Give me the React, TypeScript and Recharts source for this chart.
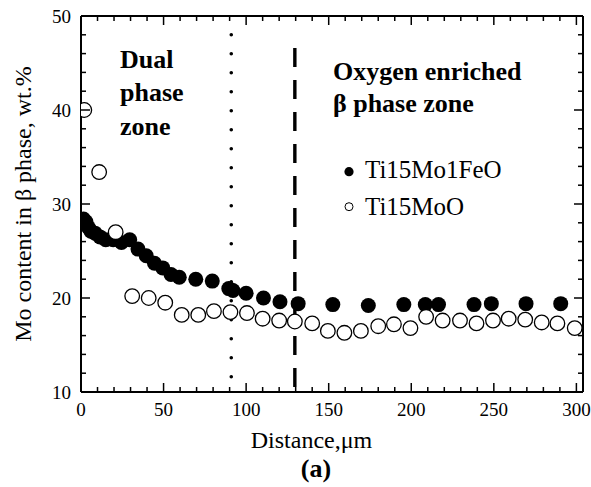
import React from 'react';
import {
  ScatterChart,
  Scatter,
  XAxis,
  YAxis,
  ReferenceLine,
  ReferenceDot,
  Legend,
  Label,
} from 'recharts';

const FONT = '"Liberation Serif", "Times New Roman", Times, serif';

// Ti15Mo1FeO (filled circles)
const feoX = [1.5, 3, 4.5, 6, 8.5, 11.5, 15, 19.5, 24.5, 29.5, 34.5, 39.5, 44.5, 49.5, 54.5, 59.5, 69.5, 79.5, 89.5, 92, 100, 110.5, 120.5, 131.5, 152.5, 174, 195.5, 208.5, 216.5, 238, 248.5, 269.5, 290.5];
const feoY = [28.4, 28.1, 27.5, 27.1, 26.9, 26.5, 26.2, 26.2, 25.9, 26.2, 25.2, 24.5, 23.7, 23.2, 22.5, 22.2, 22.0, 21.8, 21.0, 20.8, 20.5, 20.0, 19.6, 19.4, 19.3, 19.2, 19.3, 19.3, 19.3, 19.3, 19.4, 19.4, 19.4];

// Ti15MoO (open circles)
const moX = [2, 11, 21, 31, 41, 51, 61, 71, 80.5, 90.5, 100.5, 110, 120, 129.5, 140, 149.5, 159.5, 169.5, 180, 189.5, 199.5, 209, 219, 229.5, 239.5, 249.5, 259, 269, 279, 288.5, 299];
const moY = [40.0, 33.4, 27.0, 20.2, 20.0, 19.5, 18.2, 18.2, 18.6, 18.5, 18.4, 17.8, 17.6, 17.5, 17.3, 16.5, 16.3, 16.5, 17.0, 17.2, 16.8, 18.0, 17.6, 17.6, 17.3, 17.6, 17.8, 17.7, 17.4, 17.3, 16.8];

const seriesNames = ['Ti15Mo1FeO', 'Ti15MoO'];

const xTicks = [0, 10, 20, 30, 40, 50, 60, 70, 80, 90, 100, 110, 120, 130, 140, 150, 160, 170, 180, 190, 200, 210, 220, 230, 240, 250, 260, 270, 280, 290, 300];
const yTicks = [10, 12, 14, 16, 18, 20, 22, 24, 26, 28, 30, 32, 34, 36, 38, 40, 42, 44, 46, 48, 50];
const xMajorStep = 50;
const yMajorStep = 10;

const boundaryDual = 91;
const boundaryOxygen = 129.5;

const xTitle = 'Distance,\u03bcm';
const yTitle = 'Mo content in \u03b2 phase, wt.%';
const panelLabel = '(a)';
const dualText = ['Dual', 'phase', 'zone'];
const oxygenText = ['Oxygen enriched', '\u03b2 phase zone'];

const feoData = feoX.map((x, i) => ({ x, y: feoY[i] }));
const moData = moX.map((x, i) => ({ x, y: moY[i] }));

const MAJOR = 9;
const MINOR = 5;

const BottomTick = (p: any) => {
  const { x, y, payload } = p;
  const v = payload.value;
  const major = v % xMajorStep === 0;
  return (
    <g>
      <line x1={x} x2={x} y1={y} y2={y - (major ? MAJOR : MINOR)} stroke="#000" strokeWidth={1.5} />
      {major && (
        <text x={x} y={y + 24} textAnchor="middle" fontFamily={FONT} fontSize={19} fill="#000">
          {v}
        </text>
      )}
    </g>
  );
};

const TopTick = (p: any) => {
  const { x, y, payload } = p;
  const v = payload.value;
  const major = v % xMajorStep === 0;
  return <line x1={x} x2={x} y1={y} y2={y + (major ? MAJOR : MINOR)} stroke="#000" strokeWidth={1.5} />;
};

const LeftTick = (p: any) => {
  const { x, y, payload } = p;
  const v = payload.value;
  const major = v % yMajorStep === 0;
  return (
    <g>
      <line x1={x} x2={x + (major ? MAJOR : MINOR)} y1={y} y2={y} stroke="#000" strokeWidth={1.5} />
      {major && (
        <text x={x - 10} y={y + 7} textAnchor="end" fontFamily={FONT} fontSize={19} fill="#000">
          {v}
        </text>
      )}
    </g>
  );
};

const RightTick = (p: any) => {
  const { x, y, payload } = p;
  const v = payload.value;
  const major = v % yMajorStep === 0;
  return <line x1={x} x2={x - (major ? MAJOR : MINOR)} y1={y} y2={y} stroke="#000" strokeWidth={1.5} />;
};

const FilledDot = (p: any) => <circle cx={p.cx} cy={p.cy} r={7.5} fill="#000" />;
const OpenDot = (p: any) => <circle cx={p.cx} cy={p.cy} r={7.3} fill="#fff" stroke="#000" strokeWidth={1.3} />;

const XTitle = (p: any) => {
  const vb = p.viewBox || { x: 81, y: 392, width: 502, height: 95 };
  const cx = vb.x + vb.width / 2;
  return (
    <g>
      <text x={cx - 20.5} y={vb.y + 56} textAnchor="middle" fontFamily={FONT} fontSize={24} fill="#000">
        {xTitle}
      </text>
      <text x={cx - 16} y={vb.y + 85} textAnchor="middle" fontFamily={FONT} fontSize={26} fontWeight="bold" fill="#000">
        {panelLabel}
      </text>
    </g>
  );
};

const YTitle = (p: any) => {
  const vb = p.viewBox || { x: 8, y: 16, width: 73, height: 376 };
  const cx = vb.x + 23;
  const cy = vb.y + vb.height / 2;
  return (
    <text
      x={cx}
      y={cy}
      transform={`rotate(-90, ${cx}, ${cy})`}
      textAnchor="middle"
      fontFamily={FONT}
      fontSize={24}
      fill="#000"
    >
      {yTitle}
    </text>
  );
};

const zoneLabel = (lines: string[], lineGap: number) => (p: any) => {
  const vb = p.viewBox || { x: 0, y: 0, width: 0, height: 0 };
  const x = vb.x + (vb.width || 0) / 2;
  const y = vb.y + (vb.height || 0) / 2;
  return (
    <text x={x} y={y} fontFamily={FONT} fontSize={26} fontWeight="bold" fill="#000">
      {lines.map((l, i) => (
        <tspan key={i} x={x} dy={i === 0 ? 0 : lineGap}>
          {l}
        </tspan>
      ))}
    </text>
  );
};

const LegendContent = () => (
  <svg width={220} height={85} style={{ display: 'block' }}>
    <circle cx={19} cy={23.7} r={4.6} fill="#000" />
    <text x={35} y={30.3} fontFamily={FONT} fontSize={25} fill="#000">
      {seriesNames[0]}
    </text>
    <circle cx={19} cy={58.7} r={4} fill="#fff" stroke="#000" strokeWidth={1} />
    <text x={35} y={67} fontFamily={FONT} fontSize={25} fill="#000">
      {seriesNames[1]}
    </text>
  </svg>
);

export default function App() {
  return (
    <div style={{ position: 'absolute', left: 0, top: 0, width: 591, height: 487, background: '#fff', overflow: 'hidden' }}>
      <ScatterChart width={591} height={487} margin={{ top: 8, right: 0, bottom: 0, left: 8 }}>
        <XAxis
          type="number"
          dataKey="x"
          domain={[0, 304]}
          ticks={xTicks}
          interval={0}
          height={95}
          tickSize={0}
          tickMargin={0}
          tickLine={false}
          tick={BottomTick}
          axisLine={{ stroke: '#000', strokeWidth: 2 }}
          allowDataOverflow
        >
          <Label content={XTitle} />
        </XAxis>
        <XAxis
          xAxisId="top"
          orientation="top"
          type="number"
          dataKey="x"
          domain={[0, 304]}
          ticks={xTicks}
          interval={0}
          height={8}
          tickSize={0}
          tickMargin={0}
          tickLine={false}
          tick={TopTick}
          axisLine={{ stroke: '#000', strokeWidth: 2 }}
          allowDataOverflow
        />
        <YAxis
          type="number"
          dataKey="y"
          domain={[10, 50]}
          ticks={yTicks}
          interval={0}
          width={73}
          tickSize={0}
          tickMargin={0}
          tickLine={false}
          tick={LeftTick}
          axisLine={{ stroke: '#000', strokeWidth: 2 }}
          allowDataOverflow
        >
          <Label content={YTitle} />
        </YAxis>
        <YAxis
          yAxisId="right"
          orientation="right"
          type="number"
          dataKey="y"
          domain={[10, 50]}
          ticks={yTicks}
          interval={0}
          width={8}
          tickSize={0}
          tickMargin={0}
          tickLine={false}
          tick={RightTick}
          axisLine={{ stroke: '#000', strokeWidth: 2 }}
          allowDataOverflow
        />
        <ReferenceLine
          segment={[
            { x: boundaryDual, y: 48 },
            { x: boundaryDual, y: 10 },
          ]}
          stroke="#000"
          strokeWidth={3.6}
          strokeDasharray="0 19"
          strokeLinecap="round"
        />
        <ReferenceLine
          segment={[
            { x: boundaryOxygen, y: 46.6 },
            { x: boundaryOxygen, y: 10 },
          ]}
          stroke="#000"
          strokeWidth={3.4}
          strokeDasharray="19 13"
        />
        <ReferenceDot x={23.6} y={44.47} r={0} fill="none" stroke="none" label={zoneLabel(dualText, 33.4)} />
        <ReferenceDot x={152.6} y={43.2} r={0} fill="none" stroke="none" label={zoneLabel(oxygenText, 31.7)} />
        <Legend
          layout="vertical"
          align="center"
          verticalAlign="middle"
          content={LegendContent}
          wrapperStyle={{ left: 330, top: 148, width: 220, height: 85 }}
        />
        <Scatter name={seriesNames[0]} data={feoData} shape={FilledDot} isAnimationActive={false} />
        <Scatter name={seriesNames[1]} data={moData} shape={OpenDot} isAnimationActive={false} />
      </ScatterChart>
    </div>
  );
}
